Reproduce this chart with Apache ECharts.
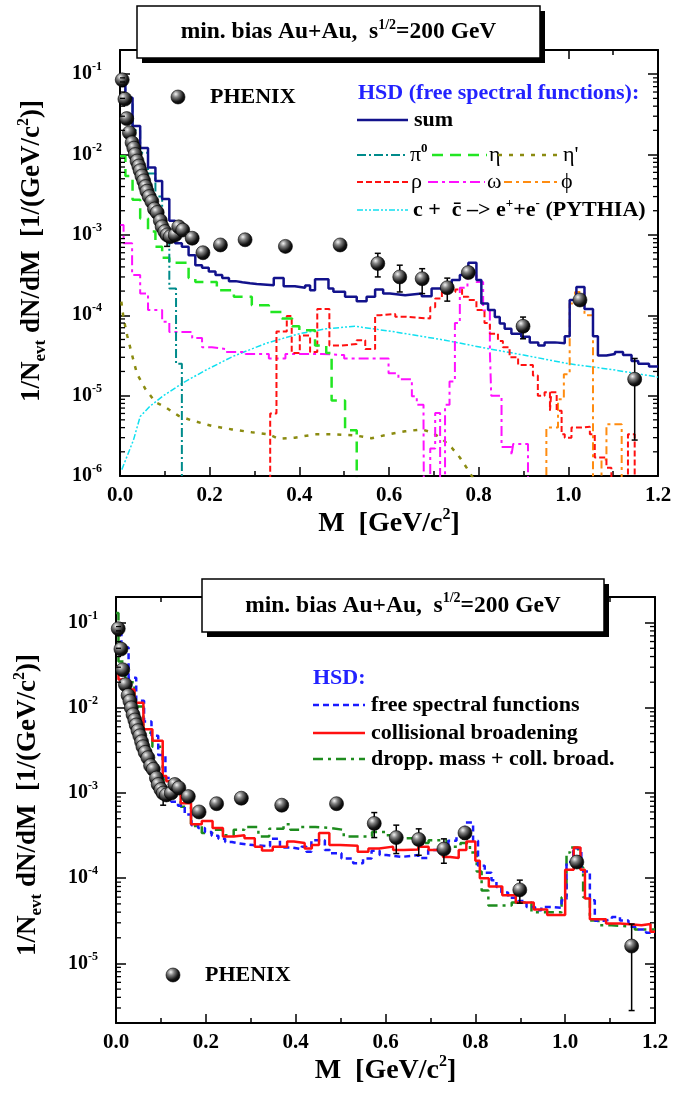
<!DOCTYPE html>
<html>
<head>
<meta charset="utf-8">
<script src="https://cdn.jsdelivr.net/npm/echarts@6.0.0/dist/echarts.min.js"></script>
<style>
  html, body { margin: 0; padding: 0; background: #fff; }
  #chart { width: 690px; height: 1093px; }
</style>
</head>
<body>
<div id="chart"></div>
<script>
// ---- PHENIX data (both panels) ----
const phenixM = [0.005, 0.011, 0.015, 0.021, 0.027, 0.031, 0.034, 0.038, 0.042, 0.045, 0.049, 0.053, 0.057, 0.060,
  0.065, 0.071, 0.077, 0.083, 0.090, 0.094, 0.100, 0.105, 0.112, 0.123, 0.131, 0.140, 0.161, 0.185, 0.224, 0.279,
  0.369, 0.491, 0.575, 0.624, 0.674, 0.730, 0.777, 0.899, 1.026, 1.148];
const phenixV = [0.085, 0.049, 0.028, 0.0187, 0.014, 0.012, 0.010, 0.0083, 0.0072, 0.0063, 0.0054, 0.0047, 0.0040, 0.0035,
  0.0030, 0.0026, 0.0021, 0.0019, 0.0015, 0.00126, 0.0011, 0.0010, 9.5e-4, 1.0e-3, 1.26e-3, 1.15e-3, 9.1e-4, 6.0e-4, 7.5e-4, 8.7e-4,
  7.2e-4, 7.5e-4, 4.4e-4, 3.0e-4, 2.85e-4, 2.2e-4, 3.4e-4, 7.3e-5, 1.55e-4, 1.6e-5];
// error bars that are visible
const errM  = [0.105, 0.575, 0.624, 0.674, 0.730, 0.777, 0.899, 1.026, 1.148];
const errLo = [7.2e-4, 3.0e-4, 1.95e-4, 1.86e-4, 1.5e-4, 2.9e-4, 5.1e-5, 1.35e-4, 2.8e-6];
const errHi = [1.1e-3, 5.9e-4, 4.2e-4, 3.8e-4, 2.9e-4, 3.9e-4, 9.5e-5, 1.8e-4, 2.9e-5];

// ---- HSD, free spectral functions (top) : [left bin edge, dN/dM] ----
const sumFree = [[0,0.092],[0.012,0.051],[0.028,0.0226],[0.045,0.0121],[0.0625,0.0069],[0.079,0.0047],[0.094,0.0028],
  [0.110,0.0015],[0.123,7.9e-4],[0.138,7.1e-4],[0.153,5.6e-4],[0.168,4.2e-4],[0.183,3.9e-4],[0.198,3.5e-4],[0.213,3.16e-4],
  [0.228,2.9e-4],[0.243,2.66e-4],[0.258,2.57e-4],[0.273,2.5e-4],[0.29,2.45e-4],[0.305,2.37e-4],[0.343,2.9e-4],[0.365,2.3e-4],
  [0.39,2.2e-4],[0.413,2.35e-4],[0.424,2.05e-4],[0.435,2.8e-4],[0.465,2.15e-4],[0.476,1.96e-4],[0.502,1.7e-4],[0.528,1.5e-4],
  [0.55,1.7e-4],[0.569,2.1e-4],[0.587,1.87e-4],[0.602,1.78e-4],[0.636,1.87e-4],[0.673,1.73e-4],[0.695,2.15e-4],[0.718,2.37e-4],
  [0.74,2.75e-4],[0.758,3.16e-4],[0.777,4.5e-4],[0.795,2.75e-4],[0.806,1.4e-4],[0.821,1.16e-4],[0.836,9.5e-5],[0.847,7.9e-5],
  [0.858,6.8e-5],[0.873,5.9e-5],[0.895,5.4e-5],[0.914,4.6e-5],[0.933,4.2e-5],[0.947,4.6e-5],[0.97,4.5e-5],[0.992,5.5e-5],
  [1.003,1.55e-4],[1.018,2.25e-4],[1.036,1.2e-4],[1.055,5.5e-5],[1.066,3.16e-5],[1.085,3.3e-5],[1.104,3.5e-5],[1.122,3.2e-5],
  [1.141,2.7e-5],[1.156,2.5e-5],[1.18,2.3e-5],[1.2,2.3e-5]];
const pi0 = [[0,0.08],[0.012,0.045],[0.028,0.02],[0.045,0.0105],[0.0625,0.0058],[0.079,0.003],[0.094,1.2e-3],
  [0.110,2.15e-4],[0.125,2.5e-5],[0.138,1e-9],[0.15,1e-9]];
const eta = [[0,9.5e-3],[0.012,5.4e-3],[0.028,2.74e-3],[0.045,1.6e-3],[0.0625,1.1e-3],[0.079,7.1e-4],[0.094,5.2e-4],
  [0.11,4.5e-4],[0.153,2.9e-4],[0.168,2.6e-4],[0.216,2.05e-4],[0.254,1.7e-4],[0.294,1.33e-4],[0.332,1.1e-4],[0.361,9.1e-5],
  [0.384,7.3e-5],[0.40,6.5e-5],[0.435,4.2e-5],[0.46,3.4e-5],[0.472,8.7e-6],[0.502,3.7e-6],[0.528,1e-9],[0.54,1e-9]];
const etaPrime = [[0.003,1.48e-4],[0.008,9.1e-5],[0.016,5.6e-5],[0.027,3.2e-5],[0.038,1.86e-5],[0.057,1.2e-5],[0.079,8.3e-6],
  [0.101,7.2e-6],[0.131,5.6e-6],[0.161,4.9e-6],[0.205,4.2e-6],[0.25,3.8e-6],[0.294,3.5e-6],[0.332,3.3e-6],[0.354,2.9e-6],
  [0.39,3.0e-6],[0.435,3.3e-6],[0.48,3.3e-6],[0.524,3.2e-6],[0.561,2.95e-6],[0.599,3.3e-6],[0.636,3.6e-6],[0.673,3.8e-6],
  [0.695,3.5e-6],[0.718,2.9e-6],[0.74,2.25e-6],[0.758,1.7e-6],[0.773,1.27e-6],[0.79,0.9e-6],[0.80,0.7e-6]];
const rho = [[0.32,1e-9],[0.335,6e-6],[0.349,6.3e-5],[0.372,9.8e-5],[0.383,3.4e-5],[0.401,5.6e-5],[0.424,3.5e-5],[0.44,1.2e-4],
  [0.467,4.2e-5],[0.495,4.4e-5],[0.528,4.9e-5],[0.547,3.8e-5],[0.569,1.0e-4],[0.58,1.04e-4],[0.614,9.6e-5],[0.636,9.1e-5],
  [0.692,1.26e-4],[0.703,1.62e-4],[0.718,1.95e-4],[0.748,2.1e-4],[0.763,1.7e-4],[0.777,1.55e-4],[0.795,1.16e-4],[0.813,8e-5],
  [0.825,5.9e-5],[0.843,4.8e-5],[0.854,4e-5],[0.869,3e-5],[0.888,2.4e-5],[0.921,1.78e-5],[0.932,1e-5],[0.947,1.1e-5],
  [0.959,6.5e-6],[0.962,1.1e-5],[0.974,6.5e-6],[0.985,3.3e-6],[0.992,3.0e-6],[1.007,4e-6],[1.03,4.1e-6],[1.048,3.3e-6],
  [1.059,1.7e-6],[1.085,1.27e-6],[1.096,1e-9],[1.133,3.3e-6],[1.148,1e-9],[1.16,1e-9]];
const omega = [[0.001,1.33e-3],[0.008,7.9e-4],[0.027,3.16e-4],[0.045,1.87e-4],[0.0625,1.16e-4],[0.094,8.3e-5],[0.11,6.2e-5],
  [0.161,5.2e-5],[0.183,4.0e-5],[0.205,3.8e-5],[0.235,3.5e-5],[0.28,3.3e-5],[0.332,2.9e-5],[0.369,3.3e-5],[0.45,3.2e-5],
  [0.50,2.9e-5],[0.599,1.9e-5],[0.621,1.6e-5],[0.651,9.8e-6],[0.662,7.7e-6],[0.677,4.6e-6],[0.68,1e-9],[0.692,2.2e-6],
  [0.703,6.1e-6],[0.714,1e-9],[0.725,7.7e-6],[0.735,1.5e-5],[0.747,8e-5],[0.758,2.2e-4],[0.775,3.2e-4],[0.795,2.6e-4],
  [0.81,1.15e-4],[0.825,3.6e-5],[0.828,1e-5],[0.851,2.3e-6],[0.873,1.8e-6],[0.877,2.5e-6],[0.91,1e-9],[0.95,1e-9]];
const phi = [[0.94,1e-9],[0.951,4e-6],[0.977,9e-6],[0.99,1.85e-5],[1.003,1.4e-4],[1.015,1.95e-4],[1.036,1.0e-4],[1.055,1e-9],
  [1.074,1.6e-6],[1.085,4.4e-6],[1.119,1e-9],[1.13,1e-9]];
const charm = [[0.004,1.2e-6],[0.03,2.8e-6],[0.045,5.5e-6],[0.067,7.4e-6],[0.097,1.0e-5],[0.141,1.45e-5],[0.193,2.1e-5],
  [0.253,3.1e-5],[0.327,4.5e-5],[0.40,5.9e-5],[0.46,6.8e-5],[0.524,7.3e-5],[0.614,6.2e-5],[0.725,4.9e-5],[0.815,3.9e-5],
  [0.90,3.2e-5],[1.0,2.5e-5],[1.1,2.1e-5],[1.2,1.7e-5]];

// ---- bottom panel: in-medium scenarios ----
const collBroad = [[0,0.03],[0.0055,0.0215],[0.021,0.0164],[0.041,0.0115],[0.061,5.6e-3],[0.081,4.1e-3],[0.104,1.58e-3],
  [0.112,1.38e-3],[0.128,1.0e-3],[0.144,7.6e-4],[0.167,4.3e-4],[0.191,4.7e-4],[0.215,3.9e-4],[0.238,3.1e-4],[0.262,3.2e-4],
  [0.286,2.95e-4],[0.309,2.35e-4],[0.325,2.12e-4],[0.349,2.35e-4],[0.381,2.7e-4],[0.396,2.6e-4],[0.42,2.23e-4],[0.436,2.45e-4],
  [0.452,3.4e-4],[0.475,2.45e-4],[0.499,2.4e-4],[0.538,2.05e-4],[0.562,2.23e-4],[0.586,2.35e-4],[0.617,2.14e-4],[0.641,2.18e-4],
  [0.673,2.35e-4],[0.696,2.14e-4],[0.728,1.78e-4],[0.744,1.73e-4],[0.763,2.14e-4],[0.78,2.7e-4],[0.80,1.6e-4],[0.81,1.0e-4],
  [0.83,8e-5],[0.86,6.3e-5],[0.89,5.2e-5],[0.93,4.3e-5],[0.96,3.7e-5],[1.0,1.26e-4],[1.019,2.3e-4],[1.034,1.26e-4],
  [1.044,5.8e-5],[1.055,3.3e-5],[1.091,2.95e-5],[1.123,2.8e-5],[1.17,2.9e-5],[1.19,2.35e-5],[1.2,2.35e-5]];
const droppMass = [[0,0.13],[0.0055,0.035],[0.021,0.02],[0.041,0.0104],[0.061,5.1e-3],[0.081,3.5e-3],[0.104,1.44e-3],
  [0.124,1.1e-3],[0.144,6.9e-4],[0.167,4.1e-4],[0.191,3.4e-4],[0.215,3.7e-4],[0.238,3.2e-4],[0.262,3.7e-4],[0.286,4.0e-4],
  [0.317,3.1e-4],[0.341,3.8e-4],[0.373,4.3e-4],[0.388,3.7e-4],[0.412,4.0e-4],[0.444,3.9e-4],[0.475,3.7e-4],[0.507,3.1e-4],
  [0.57,3.5e-4],[0.602,3.2e-4],[0.633,2.95e-4],[0.665,2.6e-4],[0.696,2.8e-4],[0.736,2.35e-4],[0.767,2.6e-4],[0.788,2.0e-4],
  [0.803,1.2e-4],[0.814,7.2e-5],[0.829,4.8e-5],[0.881,5.2e-5],[0.925,4.0e-5],[0.97,4.0e-5],[0.992,6.0e-5],[1.003,2.0e-4],
  [1.011,2.3e-4],[1.029,1.35e-4],[1.04,6e-5],[1.055,3.2e-5],[1.074,2.8e-5],[1.103,2.7e-5],[1.155,2.5e-5],[1.2,2.5e-5]];

// ---- styling ----
const F = '"Liberation Serif", "Times New Roman", serif';
const C = {
  sum: '#12128c', pi0: '#008b8b', eta: '#22e622', etaP: '#8b8b10', rho: '#ff1010',
  omega: '#ff10ff', phi: '#ff8c10', charm: '#10e0f0', free: '#1a1aff', coll: '#ff1010', dropp: '#1e8c1e', hsd: '#2222ff'
};
const D = {
  pi0: [9, 3, 2, 3], eta: [11, 7], etaP: [4, 7], rho: [6, 3], omega: [10, 4, 3, 4], phi: [8, 4, 3, 4],
  charm: [6, 2, 2, 2, 2, 2], free: [6, 4], dropp: [10, 5, 3, 5]
};
const sphere = () => new echarts.graphic.RadialGradient(0.35, 0.3, 0.75, [
  { offset: 0, color: '#f4f4f4' }, { offset: 0.3, color: '#808080' }, { offset: 0.7, color: '#151515' }, { offset: 1, color: '#000' }
]);

const chart = echarts.init(document.getElementById('chart'));

function powLabel(v) {
  const e = Math.log10(v), n = Math.round(e);
  if (Math.abs(e - n) > 1e-6) return '';
  return '{b|10}{s|' + n + '}';
}
const labRich = {
  b: { fontSize: 20, fontWeight: 'bold', fontFamily: F, color: '#000', lineHeight: 26 },
  s: { fontSize: 12, fontWeight: 'bold', fontFamily: F, color: '#000', lineHeight: 12, verticalAlign: 'top' }
};
function nameRich(size) {
  return {
    a: { fontSize: size, fontWeight: 'bold', fontFamily: F, color: '#000', lineHeight: size + 6 },
    sub: { fontSize: 17, fontWeight: 'bold', fontFamily: F, color: '#000', lineHeight: 14, verticalAlign: 'bottom' },
    sup: { fontSize: 16, fontWeight: 'bold', fontFamily: F, color: '#000', lineHeight: 14, verticalAlign: 'top' }
  };
}

function xAx(grid, pos, show, gap) {
  return {
    type: 'value', gridIndex: grid, position: pos, min: 0, max: 1.2, interval: 0.2,
    axisLine: { show: true, onZero: false, lineStyle: { color: '#000', width: 2 } },
    axisTick: { show: true, inside: true, length: 9, lineStyle: { color: '#000', width: 1.5 } },
    minorTick: { show: true, splitNumber: 2, length: 5, lineStyle: { color: '#000', width: 1.5 } },
    splitLine: { show: false }, minorSplitLine: { show: false },
    axisLabel: { show: show, margin: 9, color: '#000', fontFamily: F, fontWeight: 'bold', fontSize: 21,
      formatter: v => v.toFixed(1) },
    name: show ? '{a|M  [GeV/c}{sup|2}{a|]}' : '', nameLocation: 'middle', nameGap: gap,
    nameTextStyle: { rich: nameRich(28) }
  };
}
function yAx(grid, pos, show, min, gap, shift) {
  return {
    type: 'log', logBase: 10, gridIndex: grid, position: pos, min: min, max: 0.2,
    axisLine: { show: true, onZero: false, lineStyle: { color: '#000', width: 2 } },
    axisTick: { show: true, inside: true, length: 10, lineStyle: { color: '#000', width: 1.5 } },
    minorTick: { show: false }, splitLine: { show: false },
    axisLabel: { show: show, margin: 18, formatter: powLabel, rich: labRich },
    name: show ? '{a|1/N}{sub|evt}{a| dN/dM  [1/(GeV/c}{sup|2}{a|)]}' : '',
    nameLocation: 'middle', nameRotate: 90, nameGap: gap,
    nameTextStyle: { rich: nameRich(27), padding: [0, 0, 0, shift || 0] }
  };
}

function line(data, color, width, dash, grid, step, z) {
  return {
    type: 'line', data: data, step: step ? 'end' : false, showSymbol: false, symbol: 'none', clip: true, silent: true,
    xAxisIndex: grid * 2, yAxisIndex: grid * 2, z: z || 2,
    lineStyle: { color: color, width: width, type: dash || 'solid', cap: 'butt' }
  };
}
function minorTicks(grid, vmin) {
  const ticks = [];
  for (let n = -7; n < 0; n++) for (let k = 2; k <= 9; k++) {
    const v = k * Math.pow(10, n);
    if (v > vmin && v < 0.2) ticks.push([0, v]);
  }
  return {
    type: 'custom', xAxisIndex: grid * 2, yAxisIndex: grid * 2, data: ticks, silent: true, z: 10,
    renderItem: (p, api) => {
      const a = api.coord([0, api.value(1)]), b = api.coord([1.2, api.value(1)]);
      const st = { stroke: '#000', lineWidth: 1.3 };
      return { type: 'group', children: [
        { type: 'line', shape: { x1: a[0], y1: a[1], x2: a[0] + 5, y2: a[1] }, style: st },
        { type: 'line', shape: { x1: b[0] - 5, y1: b[1], x2: b[0], y2: b[1] }, style: st }
      ] };
    }
  };
}
function errBars(grid) {
  return {
    type: 'custom', xAxisIndex: grid * 2, yAxisIndex: grid * 2, silent: true, z: 4,
    data: errM.map((m, i) => [m, errLo[i], errHi[i]]),
    renderItem: (p, api) => {
      const lo = api.coord([api.value(0), api.value(1)]), hi = api.coord([api.value(0), api.value(2)]);
      const st = { stroke: '#000', lineWidth: 1.5 };
      return { type: 'group', children: [
        { type: 'line', shape: { x1: lo[0], y1: lo[1], x2: hi[0], y2: hi[1] }, style: st },
        { type: 'line', shape: { x1: lo[0] - 3, y1: lo[1], x2: lo[0] + 3, y2: lo[1] }, style: st },
        { type: 'line', shape: { x1: hi[0] - 3, y1: hi[1], x2: hi[0] + 3, y2: hi[1] }, style: st }
      ] };
    }
  };
}
function phenix(grid) {
  return {
    type: 'scatter', xAxisIndex: grid * 2, yAxisIndex: grid * 2, silent: true, z: 5, symbolSize: 14,
    data: phenixM.map((m, i) => [m, phenixV[i]]),
    itemStyle: { color: sphere(), borderColor: '#000', borderWidth: 0.6, opacity: 1 }
  };
}

// ---- legend / title box drawing helpers ----
function gLine(x1, x2, y, color, w, dash) {
  return { type: 'line', z: 60, shape: { x1: x1, y1: y, x2: x2, y2: y },
    style: { stroke: color, lineWidth: w, lineDash: dash || null } };
}
const txtRich = {
  b: { fontSize: 22, fontWeight: 'bold', fontFamily: F, fill: '#000', lineHeight: 26 },
  g: { fontSize: 22, fontWeight: 'normal', fontFamily: F, fill: '#000', lineHeight: 26 },
  s: { fontSize: 13, fontWeight: 'bold', fontFamily: F, fill: '#000', lineHeight: 12, verticalAlign: 'top' },
  h: { fontSize: 22, fontWeight: 'bold', fontFamily: F, fill: C.hsd, lineHeight: 26 },
  t: { fontSize: 23.5, fontWeight: 'bold', fontFamily: F, fill: '#000', lineHeight: 28 },
  ts: { fontSize: 14, fontWeight: 'bold', fontFamily: F, fill: '#000', lineHeight: 13, verticalAlign: 'top' }
};
function gText(x, y, text, align) {
  return { type: 'text', z: 60, x: x, y: y,
    style: { text: text, rich: txtRich, align: align || 'left', verticalAlign: 'middle' } };
}
function titleBox(x, y, w, h) {
  return [
    { type: 'rect', z: 100, shape: { x: x + 5, y: y + 5, width: w, height: h }, style: { fill: '#000' } },
    { type: 'rect', z: 101, shape: { x: x, y: y, width: w, height: h }, style: { fill: '#fff', stroke: '#000', lineWidth: 1.5 } },
    { type: 'text', z: 102, x: x + w / 2, y: y + h / 2,
      style: { text: '{t|min. bias Au+Au,  s}{ts|1/2}{t|=200 GeV}', rich: txtRich, align: 'center', verticalAlign: 'middle' } }
  ];
}
function sphereMark(cx, cy) {
  return { type: 'circle', z: 60, shape: { cx: cx, cy: cy, r: 7 }, style: { fill: sphere(), stroke: '#000', lineWidth: 0.6 } };
}

const graphic = [].concat(
  titleBox(137, 6, 403, 52),
  titleBox(202, 579, 402, 53),
  [
    sphereMark(178, 97), gText(210, 97, '{b|PHENIX}'),
    gText(358, 93, '{h|HSD (free spectral functions):}'),
    gLine(357, 408, 120, C.sum, 2.5), gText(414, 120, '{b|sum}'),
    gLine(357, 408, 155, C.pi0, 2, D.pi0), gText(410, 155, '{g|π}{s|0}'),
    gLine(432, 487, 155, C.eta, 2.5, D.eta), gText(489, 155, '{g|η}'),
    gLine(498, 558, 155, C.etaP, 2.5, D.etaP), gText(563, 155, "{g|η'}"),
    gLine(357, 408, 182, C.rho, 2, D.rho), gText(411, 182, '{g|ρ}'),
    gLine(428, 485, 182, C.omega, 2, D.omega), gText(487, 182, '{g|ω}'),
    gLine(504, 558, 182, C.phi, 2, D.phi), gText(561, 182, '{g|\u03D5}'),
    gLine(357, 408, 210, C.charm, 1.5, D.charm),
    gText(413, 210, '{b|c +  c\u0304 \u2013> e}{s|+}{b|+e}{s|-}{b| (PYTHIA)}'),

    gText(313, 678, '{h|HSD:}'),
    gLine(313, 365, 705, C.free, 2.5, D.free), gText(371, 705, '{b|free spectral functions}'),
    gLine(313, 365, 733, C.coll, 2.5), gText(371, 733, '{b|collisional broadening}'),
    gLine(313, 365, 759, C.dropp, 2.5, D.dropp), gText(371, 759, '{b|dropp. mass + coll. broad.}'),
    sphereMark(173, 975), gText(205, 975, '{b|PHENIX}')
  ]
);

chart.setOption({
  animation: false,
  backgroundColor: '#fff',
  textStyle: { fontFamily: F },
  grid: [
    { left: 120, top: 50, width: 538, height: 426 },
    { left: 116, top: 597, width: 539, height: 426 }
  ],
  xAxis: [xAx(0, 'bottom', true, 31), xAx(0, 'top', false), xAx(1, 'bottom', true, 31), xAx(1, 'top', false)],
  yAxis: [yAx(0, 'left', true, 1e-6, 71, 24), yAx(0, 'right', false, 1e-6), yAx(1, 'left', true, 2e-6, 71, 10), yAx(1, 'right', false, 2e-6)],
  graphic: graphic,
  series: [
    minorTicks(0, 1e-6), minorTicks(1, 2e-6),
    // top panel
    line(charm, C.charm, 1.5, D.charm, 0, false),
    line(etaPrime, C.etaP, 2.5, D.etaP, 0, false),
    line(phi, C.phi, 2, D.phi, 0, true),
    line(omega, C.omega, 2, D.omega, 0, true),
    line(rho, C.rho, 2, D.rho, 0, true),
    line(eta, C.eta, 2.5, D.eta, 0, true),
    line(pi0, C.pi0, 2, D.pi0, 0, true),
    line(sumFree, C.sum, 2.5, null, 0, true, 3),
    errBars(0), phenix(0),
    // bottom panel
    line(droppMass, C.dropp, 2.5, D.dropp, 1, true),
    line(sumFree, C.free, 2.5, D.free, 1, true),
    line(collBroad, C.coll, 2.5, null, 1, true),
    errBars(1), phenix(1)
  ]
});
</script>
</body>
</html>
